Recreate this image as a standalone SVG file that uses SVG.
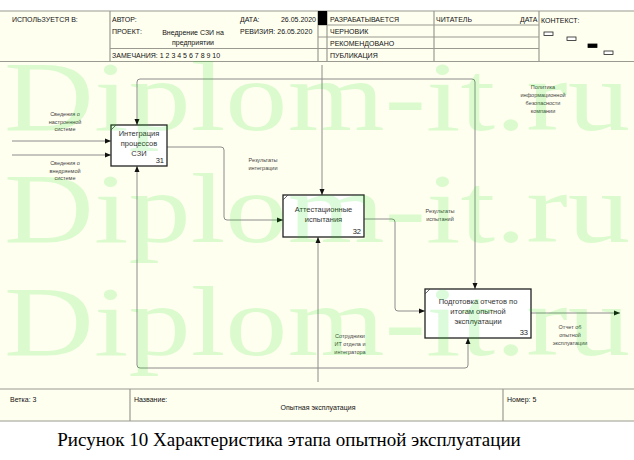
<svg xmlns="http://www.w3.org/2000/svg" width="634" height="460" viewBox="0 0 634 460">
<style>
.hdr{font-family:"Liberation Sans",Arial,sans-serif;font-size:7px;fill:#111}
.frame{stroke:#9a9a90;stroke-width:1.2;fill:none}
.box{fill:#fff;stroke:#222;stroke-width:1.3}
.bt{font-family:"Liberation Sans",Arial,sans-serif;font-size:7.5px;fill:#333;text-anchor:middle}
.num{font-family:"Liberation Sans",Arial,sans-serif;font-size:7.5px;fill:#222;text-anchor:end}
.lbl{font-family:"Liberation Sans",Arial,sans-serif;font-size:5.5px;fill:#444;text-anchor:middle}
.con{fill:none;stroke:#8c8c8c;stroke-width:1}
.wm{font-family:"Liberation Serif","Times New Roman",serif;font-size:100px;fill:#00e000;fill-opacity:0.14}
</style>
<defs>
<marker id="ah" markerUnits="userSpaceOnUse" markerWidth="7" markerHeight="6" refX="6" refY="3" orient="auto">
<path d="M0,0.5 L6,3 L0,5.5 Z" fill="#111"/>
</marker>
</defs>
<rect x="0" y="0" width="634" height="460" fill="#fff"/>
<rect x="0" y="11" width="634" height="410" fill="#fffff0"/>
<g id="header">
<line class="frame" x1="0" y1="11" x2="634" y2="11"/>
<line class="frame" x1="0" y1="61.5" x2="634" y2="61.5" stroke-width="1.6"/>
<line class="frame" x1="110" y1="11" x2="110" y2="61"/>
<line class="frame" x1="318" y1="11" x2="318" y2="61"/>
<line class="frame" x1="327" y1="11" x2="327" y2="61"/>
<line class="frame" x1="434" y1="11" x2="434" y2="61"/>
<line class="frame" x1="539" y1="11" x2="539" y2="61"/>
<line class="frame" x1="110" y1="48.5" x2="318" y2="48.5"/>
<line class="frame" x1="318" y1="25" x2="539" y2="25"/>
<line class="frame" x1="318" y1="37" x2="539" y2="37"/>
<line class="frame" x1="318" y1="48.5" x2="539" y2="48.5"/>
<rect x="318" y="11" width="9" height="14" fill="#000"/>
<text class="hdr" x="12" y="21.5">ИСПОЛЬЗУЕТСЯ В:</text>
<text class="hdr" x="112" y="21.5">АВТОР:</text>
<text class="hdr" x="112" y="34">ПРОЕКТ:</text>
<text class="hdr" x="193" y="35" text-anchor="middle">Внедрение СЗИ на</text>
<text class="hdr" x="193" y="45" text-anchor="middle">предприятии</text>
<text class="hdr" x="112" y="58">ЗАМЕЧАНИЯ: 1 2 3 4 5 6 7 8 9 10</text>
<text class="hdr" x="240" y="21.5">ДАТА:</text>
<text class="hdr" x="316" y="21.5" text-anchor="end">26.05.2020</text>
<text class="hdr" x="240" y="34">РЕВИЗИЯ: 26.05.2020</text>
<text class="hdr" x="330" y="21.5">РАЗРАБАТЫВАЕТСЯ</text>
<text class="hdr" x="330" y="34">ЧЕРНОВИК</text>
<text class="hdr" x="330" y="45.5">РЕКОМЕНДОВАНО</text>
<text class="hdr" x="330" y="58">ПУБЛИКАЦИЯ</text>
<text class="hdr" x="436" y="21.5">ЧИТАТЕЛЬ</text>
<text class="hdr" x="537.5" y="21.5" text-anchor="end">ДАТА</text>
<text class="hdr" x="541" y="22.5" font-size="8">КОНТЕКСТ:</text>
<rect x="544" y="32" width="9" height="3.5" fill="#fff" stroke="#222" stroke-width="0.8"/>
<rect x="567" y="37" width="9" height="3.5" fill="#fff" stroke="#222" stroke-width="0.8"/>
<rect x="588" y="44" width="9" height="3.5" fill="#000" stroke="#000" stroke-width="0.8"/>
<rect x="604" y="51" width="9" height="3.5" fill="#fff" stroke="#222" stroke-width="0.8"/>
</g>
<g id="connectors">
<path class="con" d="M322,65 V195" marker-end="url(#ah)"/>
<path class="con" d="M322,79 H140 Q137,79 137,82 V125" marker-end="url(#ah)"/>
<path class="con" d="M322,79 H472 Q475,79 475,82 V289" marker-end="url(#ah)"/>
<path class="con" d="M12,141 H111" marker-end="url(#ah)"/>
<path class="con" d="M12,155 H111" marker-end="url(#ah)"/>
<path class="con" d="M167,147 H221 Q224,147 224,150 V217 Q224,220 227,220 H283" marker-end="url(#ah)"/>
<path class="con" d="M364,219 H392 Q395,219 395,222 V308 Q395,311 398,311 H425" marker-end="url(#ah)"/>
<path class="con" d="M531,313 H620" marker-end="url(#ah)"/>
<path class="con" d="M318,382 V237" marker-end="url(#ah)"/>
<path class="con" d="M318,368 H140 Q137,368 137,365 V166" marker-end="url(#ah)"/>
<path class="con" d="M318,368 H465 Q468,368 468,365 V338" marker-end="url(#ah)"/>
<text class="lbl" x="65" y="116">Сведения о</text>
<text class="lbl" x="65" y="123.5">настроенной</text>
<text class="lbl" x="65" y="131">системе</text>
<text class="lbl" x="65" y="165">Сведения о</text>
<text class="lbl" x="65" y="172.5">внедряемой</text>
<text class="lbl" x="65" y="180">системе</text>
<text class="lbl" x="263" y="162">Результаты</text>
<text class="lbl" x="263" y="169.5">интеграции</text>
<text class="lbl" x="440" y="213">Результаты</text>
<text class="lbl" x="440" y="220.5">испытаний</text>
<text class="lbl" x="543" y="89">Политика</text>
<text class="lbl" x="543" y="97">информационной</text>
<text class="lbl" x="543" y="105">безопасности</text>
<text class="lbl" x="543" y="113">компании</text>
<text class="lbl" x="350" y="338">Сотрудники</text>
<text class="lbl" x="350" y="346">ИТ отдела и</text>
<text class="lbl" x="350" y="354">интегратора</text>
<text class="lbl" x="570" y="329">Отчет об</text>
<text class="lbl" x="570" y="337">опытной</text>
<text class="lbl" x="570" y="345">эксплуатации</text>
</g>
<g id="n31">
<rect class="box" x="111" y="125" width="56" height="41"/>
<line x1="111" y1="130" x2="116" y2="125" stroke="#444" stroke-width="0.8"/>
<text class="bt" x="139" y="136">Интеграция</text>
<text class="bt" x="139" y="146">процессов</text>
<text class="bt" x="139" y="156">СЗИ</text>
<text class="num" x="164" y="163">31</text>
</g>
<g id="n32">
<rect class="box" x="283" y="195" width="81" height="42"/>
<line x1="283" y1="200" x2="288" y2="195" stroke="#444" stroke-width="0.8"/>
<text class="bt" x="323.5" y="211.5">Аттестационные</text>
<text class="bt" x="323.5" y="221.5">испытания</text>
<text class="num" x="361" y="234">32</text>
</g>
<g id="n33">
<rect class="box" x="425" y="289" width="106" height="49"/>
<line x1="425" y1="294" x2="430" y2="289" stroke="#444" stroke-width="0.8"/>
<text class="bt" x="478" y="304">Подготовка отчетов по</text>
<text class="bt" x="478" y="314">итогам опытной</text>
<text class="bt" x="478" y="324">эксплуатации</text>
<text class="num" x="528" y="335">33</text>
</g>
<g id="footer">
<line class="frame" x1="0" y1="389" x2="634" y2="389" stroke-width="1.6"/>
<line class="frame" x1="0" y1="421" x2="634" y2="421" stroke-width="1.6"/>
<line class="frame" x1="130" y1="389" x2="130" y2="421"/>
<line class="frame" x1="503" y1="389" x2="503" y2="421"/>
<text class="hdr" x="10" y="402">Ветка: 3</text>
<text class="hdr" x="134" y="402">Название:</text>
<text class="hdr" x="318" y="410" text-anchor="middle">Опытная эксплуатация</text>
<text class="hdr" x="507" y="402">Номер: 5</text>
</g>
<text x="289" y="446" text-anchor="middle" font-family="'Liberation Serif','Times New Roman',serif" font-size="19" fill="#000">Рисунок 10 Характеристика этапа опытной эксплуатации</text>
<g id="watermark">
<text class="wm" x="4" y="130" textLength="626" lengthAdjust="spacingAndGlyphs">Diplom-it.ru</text>
<text class="wm" x="4" y="242" textLength="626" lengthAdjust="spacingAndGlyphs">Diplom-it.ru</text>
<text class="wm" x="4" y="355" textLength="626" lengthAdjust="spacingAndGlyphs">Diplom-it.ru</text>
</g>
</svg>
